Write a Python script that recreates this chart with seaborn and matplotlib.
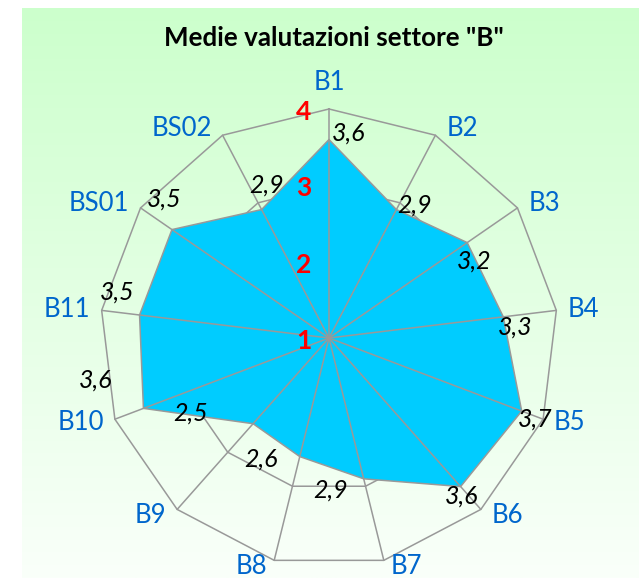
"""
Radar chart - Medie valutazioni settore "B"
"""

import numpy as np
import matplotlib
matplotlib.use('Agg')
import matplotlib.pyplot as plt
import seaborn as sns

# ─── DATA ─────────────────────────────────────────────────────────────────────
TITLE      = 'Medie valutazioni settore "B"'
CATEGORIES = ['B1', 'B2', 'B3', 'B4', 'B5', 'B6', 'B7', 'B8', 'B9',
              'B10', 'B11', 'BS01', 'BS02']
VALUES     = [3.6, 2.9, 3.2, 3.3, 3.7, 3.6, 2.9, 2.6, 2.5, 3.6, 3.5, 3.5, 2.9]
R_TICKS    = [1, 2, 3, 4]

# ─── STYLE ────────────────────────────────────────────────────────────────────
sns.set_theme(style='white')
plt.rcParams['font.family'] = ['Lato', 'DejaVu Sans']

FILL_COL  = '#00CCFF'
GRID_COL  = '#999999'
CAT_COL   = '#0066CC'
W, H      = 639, 578
CX, CY, R = 329, 338, 229        # centre and radius of the radar, pixels

# data label offsets in pixels (right, up)
VAL_OFFSETS = [(20, 6), (18, 5), (7, -18), (12, -10), (13, -8), (1, -10),
               (-33, -11), (-39, -2), (-62, 11), (-48, 28), (-22, 23),
               (-8, 31), (5, 25)]

fig = plt.figure(figsize=(W / 100, H / 100), dpi=100)
fig.patch.set_facecolor('white')

# background gradient (chart area)
bg = fig.add_axes([22 / W, 0, (W - 22) / W, (H - 8) / H])
top = np.array([204, 255, 204]) / 255
bot = np.array([250, 255, 250]) / 255
t = np.linspace(0, 1, 256)[:, None]
grad = top[None, :] * (1 - t) + bot[None, :] * t
bg.imshow(grad[:, None, :], aspect='auto', extent=[0, 1, 0, 1])
bg.axis('off')

# ─── RADAR ────────────────────────────────────────────────────────────────────
ax = fig.add_axes([(CX - R) / W, (H - CY - R) / H, 2 * R / W, 2 * R / H],
                  projection='polar')
ax.patch.set_visible(False)
ax.set_theta_offset(np.pi / 2)
ax.set_theta_direction(-1)
ax.set_ylim(R_TICKS[0], R_TICKS[-1])
ax.set_xticks([]); ax.set_yticks([])
ax.grid(False)
ax.spines['polar'].set_visible(False)

n = len(CATEGORIES)
angles = np.arange(n) * 2 * np.pi / n
ang_c = np.append(angles, angles[0])
val_c = np.append(VALUES, VALUES[0])

# rings
for v in R_TICKS[1:]:
    ax.plot(ang_c, [v] * (n + 1), color=GRID_COL, lw=1.1, zorder=1, clip_on=False)

# series
ax.fill(ang_c, val_c, color=FILL_COL, zorder=2, lw=0)
ax.plot(ang_c, val_c, color=GRID_COL, lw=1.1, zorder=3, clip_on=False)

# spokes
for a in angles:
    ax.plot([a, a], [R_TICKS[0], R_TICKS[-1]], color=GRID_COL, lw=1.1,
            zorder=4, clip_on=False)

# radial tick labels
for v in R_TICKS:
    ax.annotate(str(v), xy=(0, v), xytext=(-25, -3), textcoords='offset pixels',
                ha='center', va='center', color='red', fontsize=19,
                fontweight='bold', zorder=5, annotation_clip=False)

# data labels
for a, v, off in zip(angles, VALUES, VAL_OFFSETS):
    ax.annotate(f'{v:.1f}'.replace('.', ','), xy=(a, v), xytext=off,
                textcoords='offset pixels', ha='center', va='center',
                fontsize=18, fontstyle='italic', color='black', zorder=6,
                annotation_clip=False)

# category labels
for a, cat in zip(angles, CATEGORIES):
    s, c = np.sin(a), np.cos(a)
    if abs(s) < 0.05:
        ha, va, off = 'center', 'bottom', (0, 14)
    elif c < -0.9:
        ha, va, off = ('left' if s > 0 else 'right'), 'top', (7 * np.sign(s), 6)
    else:
        ha, va, off = ('left' if s > 0 else 'right'), 'center', (11 * np.sign(s), 8 * c)
    ax.annotate(cat, xy=(a, R_TICKS[-1]), xytext=off, textcoords='offset pixels',
                ha=ha, va=va, color=CAT_COL, fontsize=18.5, annotation_clip=False)

fig.text(333.5 / W, 1 - 38 / H, TITLE, ha='center', va='center',
         fontsize=18.7, fontweight='bold', color='black')

plt.savefig('out.png', dpi=100)
plt.close()
